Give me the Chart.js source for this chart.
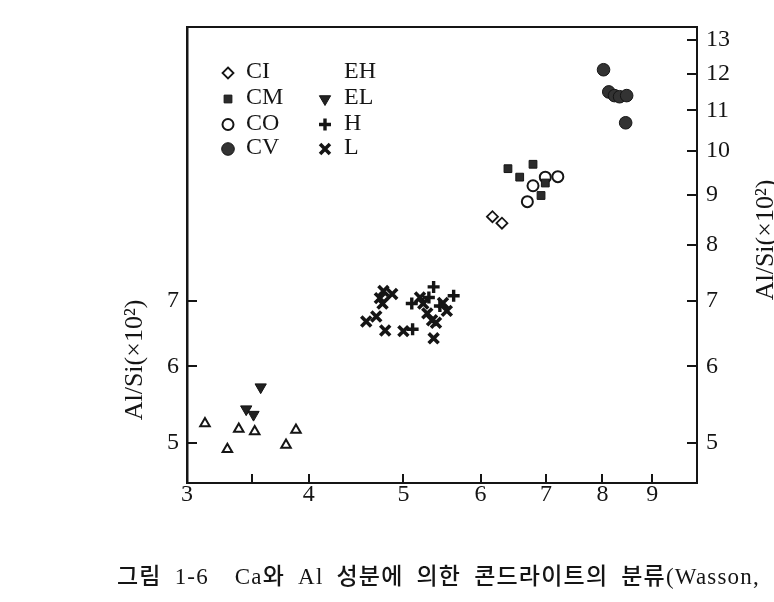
<!DOCTYPE html>
<html><head><meta charset="utf-8">
<script src="https://cdn.jsdelivr.net/npm/chart.js@4.4.1/dist/chart.umd.min.js"></script>
<style>html,body{margin:0;padding:0;background:#fff;}#wrap{width:774px;height:602px;position:relative;}</style>
</head><body><div id="wrap"><canvas id="c" width="774" height="602"></canvas></div>
<script>
// ---- data (Ca/Si ×10², Al/Si ×10²) ----
const CI_x = [6.17, 6.31];
const CI_y = [8.55, 8.42];
const CM_x = [6.40, 6.79, 6.58, 6.99, 6.92];
const CM_y = [9.58, 9.68, 9.39, 9.26, 8.99];
const CO_x = [6.99, 7.20, 6.79, 6.70];
const CO_y = [9.39, 9.40, 9.20, 8.86];
const CV_x = [8.02, 8.12, 8.23, 8.33, 8.47, 8.45];
const CV_y = [12.11, 11.49, 11.39, 11.36, 11.39, 10.68];
const EH_x = [3.13, 3.30, 3.39, 3.52, 3.79, 3.88];
const EH_y = [5.24, 4.93, 5.17, 5.14, 4.98, 5.16];
const EL_x = [3.57, 3.45, 3.51];
const EL_y = [5.71, 5.42, 5.35];
const H_x = [5.11, 5.37, 5.63, 5.31, 5.10, 5.45];
const H_y = [6.55, 7.24, 7.09, 7.06, 6.96, 6.92];
const L_x = [4.77, 4.87, 4.73, 4.76, 4.69, 4.58, 4.79, 5.00, 5.20, 5.24, 5.49, 5.29, 5.54, 5.35, 5.40, 5.37];
const L_y = [7.17, 7.12, 7.05, 6.96, 6.75, 6.67, 6.53, 6.52, 7.06, 6.96, 6.97, 6.80, 6.84, 6.69, 6.65, 6.41];

const xTicks = [3, 3.5, 4, 5, 6, 7, 8, 9];
const xTickLabels = ['3', '', '4', '5', '6', '7', '8', '9'];
const yLeftTicks = [5, 6, 7];
const yRightTicks = [5, 6, 7, 8, 9, 10, 11, 12, 13];
const yTitle = 'Al/Si(×10²)';
const caption = '그림 1-6  Ca와 Al 성분에 의한 콘드라이트의 분류(Wasson,';
const legendCol1 = ['CI', 'CM', 'CO', 'CV'];
const legendCol2 = ['EH', 'EL', 'H', 'L'];

// ---- styles ----
const INK = '#151515';
const styles = {
  CI: {pointStyle: 'rectRot', radius: 5.5, borderWidth: 1.8, bg: '#fff'},
  CM: {pointStyle: 'rect', radius: 5.5, borderWidth: 1, bg: '#2b2b2b'},
  CO: {pointStyle: 'circle', radius: 5.5, borderWidth: 2, bg: '#fff'},
  CV: {pointStyle: 'circle', radius: 6.3, borderWidth: 1, bg: '#333'},
  EH: {pointStyle: 'triangle', radius: 5.5, borderWidth: 2, bg: '#fff'},
  EL: {pointStyle: 'triangle', radius: 6.5, borderWidth: 1, bg: '#222', rotation: 180},
  H:  {pointStyle: 'cross', radius: 6, borderWidth: 3.4, bg: INK},
  L:  {pointStyle: 'crossRot', radius: 7, borderWidth: 3.6, bg: INK}
};
const series = {CI: [CI_x, CI_y], CM: [CM_x, CM_y], CO: [CO_x, CO_y], CV: [CV_x, CV_y],
  EH: [EH_x, EH_y], EL: [EL_x, EL_y], H: [H_x, H_y], L: [L_x, L_y]};
const pts = (xs, ys) => xs.map((x, i) => ({x: x, y: ys[i]}));

const datasets = Object.keys(series).map(k => ({
  label: k,
  data: pts(series[k][0], series[k][1]),
  pointStyle: styles[k].pointStyle,
  pointRadius: styles[k].radius,
  pointRotation: styles[k].rotation || 0,
  pointBorderWidth: styles[k].borderWidth,
  pointBackgroundColor: styles[k].bg,
  pointBorderColor: INK,
  showLine: false,
  yAxisID: 'y'
}));

function drawMarker(ctx, st, x, y) {
  const r = st.radius;
  ctx.save();
  ctx.translate(x, y);
  ctx.rotate((st.rotation || 0) * Math.PI / 180);
  ctx.lineWidth = st.borderWidth;
  ctx.strokeStyle = INK;
  ctx.fillStyle = st.bg;
  ctx.beginPath();
  switch (st.pointStyle) {
    case 'circle': ctx.arc(0, 0, r, 0, Math.PI * 2); ctx.fill(); ctx.stroke(); break;
    case 'rect': { const s = r * Math.SQRT1_2; ctx.rect(-s, -s, 2 * s, 2 * s); ctx.fill(); ctx.stroke(); break; }
    case 'rectRot': ctx.moveTo(0, -r); ctx.lineTo(r, 0); ctx.lineTo(0, r); ctx.lineTo(-r, 0); ctx.closePath(); ctx.fill(); ctx.stroke(); break;
    case 'triangle': { const w = r * Math.sqrt(3) / 2;
      ctx.moveTo(0, -r); ctx.lineTo(w, r / 2); ctx.lineTo(-w, r / 2); ctx.closePath(); ctx.fill(); ctx.stroke(); break; }
    case 'cross': ctx.moveTo(0, -r); ctx.lineTo(0, r); ctx.moveTo(-r, 0); ctx.lineTo(r, 0); ctx.stroke(); break;
    case 'crossRot': { const d = r * Math.SQRT1_2; ctx.moveTo(-d, -d); ctx.lineTo(d, d); ctx.moveTo(d, -d); ctx.lineTo(-d, d); ctx.stroke(); break; }
  }
  ctx.restore();
}

const hasLS = (c) => ('letterSpacing' in c);
const textPlugin = {
  id: 'texts',
  afterDraw(chart) {
    const ctx = chart.ctx;
    ctx.save();
    if (hasLS(ctx)) { ctx.letterSpacing = '0px'; }
    if ('wordSpacing' in ctx) { ctx.wordSpacing = '0px'; }
    // legend inside plot
    const rows = [72, 98, 123.5, 148];
    ctx.font = '24px "Liberation Serif", serif';
    ctx.fillStyle = INK;
    ctx.textBaseline = 'middle';
    ctx.textAlign = 'left';
    legendCol1.forEach((k, i) => { drawMarker(ctx, styles[k], 228, rows[i] + 1); ctx.fillStyle = INK; ctx.fillText(k, 246, rows[i]); });
    legendCol2.forEach((k, i) => { if (k !== 'EH') drawMarker(ctx, styles[k], 325, rows[i] + 1); ctx.fillStyle = INK; ctx.fillText(k, 344, rows[i]); });
    // axis titles
    ctx.font = '26px "Liberation Serif", serif';
    ctx.textAlign = 'center';
    ctx.save(); ctx.translate(135, 360); ctx.rotate(-Math.PI / 2); ctx.fillText(yTitle, 0, 0); ctx.restore();
    ctx.save(); ctx.translate(766, 240); ctx.rotate(-Math.PI / 2); ctx.fillText(yTitle, 0, 0); ctx.restore();
    // caption
    ctx.font = '500 23px "Liberation Serif", "Noto Sans CJK KR", serif';
    ctx.textAlign = 'left';
    if (hasLS(ctx)) ctx.letterSpacing = '1.2px';
    if ('wordSpacing' in ctx) ctx.wordSpacing = '6px';
    ctx.fillText(caption, 117, 578);
    if (hasLS(ctx)) ctx.letterSpacing = '0px';
    if ('wordSpacing' in ctx) ctx.wordSpacing = '0px';
    ctx.restore();
  }
};

const noPad = s => { s.paddingTop = 0; s.paddingBottom = 0; s.paddingLeft = 0; s.paddingRight = 0; };
const tickFont = {family: '"Liberation Serif", serif', size: 24};
new Chart(document.getElementById('c'), {
  type: 'scatter',
  data: {datasets: datasets},
  options: {
    responsive: false,
    animation: false,
    events: [],
    layout: {padding: 0},
    plugins: {legend: {display: false}, tooltip: {enabled: false}, title: {display: false}},
    scales: {
      x: {
        type: 'logarithmic', position: 'bottom', min: 3, max: 10, bounds: 'data',
        afterBuildTicks: s => { s.ticks = xTicks.map(v => ({value: v})); },
        afterFit: s => { s.height = 119; noPad(s); },
        ticks: {autoSkip: false, maxRotation: 0, minRotation: 0, padding: 6, color: INK, font: tickFont,
          callback: (v) => { const i = xTicks.indexOf(v); return i >= 0 ? xTickLabels[i] : ''; }},
        grid: {drawOnChartArea: false, drawTicks: true, tickLength: -9, lineWidth: 2, color: INK},
        border: {display: true, color: INK, width: 2}
      },
      x2: {
        type: 'logarithmic', position: 'top', min: 3, max: 10, bounds: 'data',
        afterFit: s => { s.height = 27; noPad(s); },
        ticks: {display: false},
        grid: {drawOnChartArea: false, drawTicks: false},
        border: {display: true, color: INK, width: 2}
      },
      y: {
        type: 'logarithmic', position: 'left', min: 4.55, max: 13.4, bounds: 'data',
        afterBuildTicks: s => { s.ticks = yLeftTicks.map(v => ({value: v})); },
        afterFit: s => { s.width = 187; noPad(s); },
        ticks: {autoSkip: false, padding: 18, color: INK, font: tickFont, callback: v => String(v)},
        grid: {drawOnChartArea: false, drawTicks: true, tickLength: -10, lineWidth: 2, color: INK},
        border: {display: true, color: INK, width: 2.5}
      },
      y2: {
        type: 'logarithmic', position: 'right', min: 4.55, max: 13.4, bounds: 'data',
        afterBuildTicks: s => { s.ticks = yRightTicks.map(v => ({value: v})); },
        afterFit: s => { s.width = 77; noPad(s); },
        ticks: {autoSkip: false, padding: 19, color: INK, font: tickFont, callback: v => String(v)},
        grid: {drawOnChartArea: false, drawTicks: true, tickLength: -10, lineWidth: 2, color: INK},
        border: {display: true, color: INK, width: 2}
      }
    }
  },
  plugins: [textPlugin]
});
</script>
</body></html>
